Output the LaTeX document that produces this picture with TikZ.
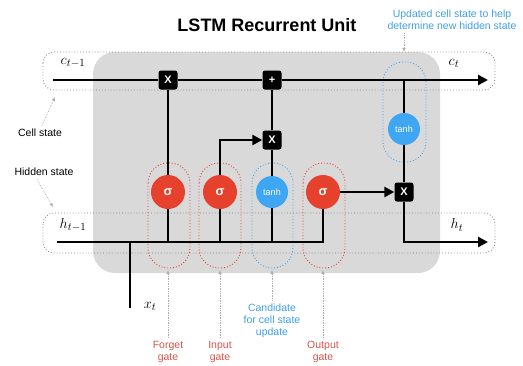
\documentclass[tikz,border=0pt]{standalone}
\usepackage{fontspec}
\setsansfont{Liberation Sans}
\usetikzlibrary{arrows.meta}
\definecolor{gred}{HTML}{E5412D}
\definecolor{gblue}{HTML}{3EA6F2}
\definecolor{lred}{HTML}{D9534A}
\definecolor{lblue}{HTML}{3E9FE8}
\definecolor{bgray}{HTML}{D9D9D9}
\definecolor{dgray}{HTML}{8A8A8A}
\tikzset{
  flow/.style={line width=2.6pt, line join=miter},
  flowarrow/.style={flow, -{Triangle[length=10pt,width=10pt]}},
  opbox/.style={fill=black, rounded corners=2.5pt, minimum size=19pt, inner sep=0pt, text=white, font=\sffamily\bfseries\fontsize{11}{11}\selectfont},
  gatec/.style={circle, fill=gred, minimum size=34pt, inner sep=0pt, text=white, font=\sffamily\bfseries\fontsize{13}{13}\selectfont},
  tanhc/.style={circle, fill=gblue, minimum size=32pt, inner sep=0pt, text=white, font=\sffamily\fontsize{9}{9}\selectfont},
  statebox/.style={draw=dgray, dotted, line width=0.9pt, rounded corners=11pt},
  redpill/.style={draw=gred, dotted, line width=0.9pt, rounded corners=20pt},
  bluepill/.style={draw=gblue, dotted, line width=0.9pt, rounded corners=20pt},
  note/.style={draw=dgray!70, densely dotted, line width=0.7pt, -{Latex[length=4pt,width=3.5pt]}},
  lab/.style={font=\sffamily\fontsize{10.5}{12}\selectfont, align=center},
  mathlab/.style={font=\fontsize{15}{15}\selectfont}
}
\begin{document}
\begin{tikzpicture}[x=1pt,y=-1pt]
\useasboundingbox (0,0) rectangle (523,365);
% background cell
\fill[bgray, rounded corners=22pt] (93,52) rectangle (440,273);
% state boxes
\draw[statebox] (43,52) rectangle (495,90);
\draw[statebox] (43,213) rectangle (495,253);
% dotted pills
\draw[redpill] (148,163) rectangle (190,268);
\draw[redpill] (199,163) rectangle (241,268);
\draw[bluepill] (252,163) rectangle (293,268);
\draw[redpill] (303,163) rectangle (345,268);
\draw[bluepill] (383,62) rectangle (426,162);

% title and annotations
\node[font=\sffamily\bfseries\fontsize{18}{18}\selectfont] (title) at (267,25) {LSTM Recurrent Unit};
\node[lab, text=lblue] (upd) at (452,20) {Updated cell state to help\\determine new hidden state};
\node[lab, anchor=center] (cs) at (40,133) {Cell state};
\node[lab, anchor=center] (hs) at (44,172) {Hidden state};
\node[lab, text=lred] (fg) at (168,352) {Forget\\gate};
\node[lab, text=lred] (ig) at (220,352) {Input\\gate};
\node[lab, text=lblue] (cand) at (272,321) {Candidate\\for cell state\\update};
\node[lab, text=lred] (og) at (323,352) {Output\\gate};

% operation nodes
\node[opbox] (fx) at (168,80) {X};
\node[opbox] (pl) at (272,80) {+};
\node[opbox] (ix) at (272,140) {X};
\node[opbox] (ox) at (404,192) {X};
\node[gatec] (sf) at (168,192) {σ};
\node[gatec] (si) at (220,192) {σ};
\node[tanhc] (tc) at (272,192) {tanh};
\node[gatec] (so) at (323,192) {σ};
\node[tanhc] (tu) at (404,129) {tanh};

% coordinates
\coordinate (cin) at (53,80);
\coordinate (cout) at (488,80);
\coordinate (tap) at (404,80);
\coordinate (hin) at (57,242);
\coordinate (hout) at (488,242);
\coordinate (jf) at (168,242);
\coordinate (ji) at (220,242);
\coordinate (jc) at (272,242);
\coordinate (jx) at (130,242);
\coordinate (xin) at (130,308);

% cell state line
\draw[flow] (cin) -- (fx);
\draw[flow] (fx) -- (pl);
\draw[flowarrow] (pl) -- (cout);
\draw[flow] (tap) -- (tu);
\draw[flow] (tu) -- (ox);
% hidden line
\draw[flow] (hin) -| (so);
\draw[flow] (jf) -- (sf);
\draw[flow] (ji) -- (si);
\draw[flow] (jc) -- (tc);
\draw[flow] (xin) -- (jx);
% gates to ops
\draw[flow] (sf) -- (fx);
\draw[flowarrow] (si) |- (ix);
\draw[flow] (tc) -- (ix);
\draw[flow] (ix) -- (pl);
\draw[flowarrow] (so) -- (ox);
\draw[flowarrow] (ox) |- (hout);

% math labels
\node[mathlab] (cl) at (73,63) {$c_{t-1}$};
\node[mathlab] (cr) at (454,63) {$c_t$};
\node[mathlab] (hl) at (73,225) {$h_{t-1}$};
\node[mathlab] (hr) at (457,225) {$h_t$};
\node[mathlab] (xl) at (150,306) {$x_t$};

% annotation arrows
\coordinate (updtip) at (404,52);
\coordinate (cstip) at (55,97);
\coordinate (hstip) at (53,207);
\coordinate (fgtip) at (168,270);
\coordinate (igtip) at (220,270);
\coordinate (cdtip) at (272,270);
\coordinate (ogtip) at (323,270);
\draw[note] (upd.south -| updtip) -- (updtip);
\draw[note] (cs.north) ++(2,0) -- (cstip);
\draw[note] (hs.south) ++(-7,0) -- (hstip);
\draw[note] (fg.north) -- (fgtip);
\draw[note] (ig.north) -- (igtip);
\draw[note] (cand.north) -- (cdtip);
\draw[note] (og.north) -- (ogtip);
\end{tikzpicture}
\end{document}
